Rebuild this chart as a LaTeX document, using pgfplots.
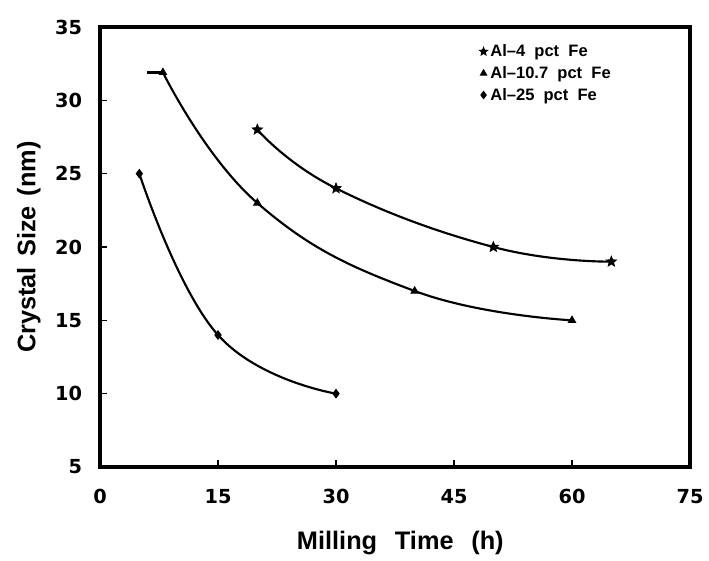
\documentclass[border=0pt]{standalone}
\usepackage{fontspec}
\setmainfont{Liberation Sans}
\newfontfamily\tickfont{DejaVu Sans Bold}
\usepackage{pgfplots}
\pgfplotsset{compat=1.18}
\pgfdeclareplotmark{fstar}{%
  \pgfpathmoveto{\pgfpointpolar{90}{1.25*\pgfplotmarksize}}%
  \pgfpathlineto{\pgfpointpolar{126}{0.55*\pgfplotmarksize}}%
  \pgfpathlineto{\pgfpointpolar{162}{1.25*\pgfplotmarksize}}%
  \pgfpathlineto{\pgfpointpolar{198}{0.55*\pgfplotmarksize}}%
  \pgfpathlineto{\pgfpointpolar{234}{1.25*\pgfplotmarksize}}%
  \pgfpathlineto{\pgfpointpolar{270}{0.55*\pgfplotmarksize}}%
  \pgfpathlineto{\pgfpointpolar{306}{1.25*\pgfplotmarksize}}%
  \pgfpathlineto{\pgfpointpolar{342}{0.55*\pgfplotmarksize}}%
  \pgfpathlineto{\pgfpointpolar{18}{1.25*\pgfplotmarksize}}%
  \pgfpathlineto{\pgfpointpolar{54}{0.55*\pgfplotmarksize}}%
  \pgfpathclose\pgfusepathqfillstroke}
\begin{document}
\begin{tikzpicture}[x=1pt,y=1pt]
\begin{axis}[
  at={(0,0)}, anchor=south west,
  scale only axis, width=442.5pt, height=330pt,
  xmin=0, xmax=75, ymin=5, ymax=35,
  xtick={0,15,...,75}, ytick={5,10,...,35},
  tick pos=left, tick align=inside, major tick length=5pt,
  axis line style={line width=2.4pt}, tick style={line width=1pt, black},
  /pgf/number format/assume math mode=true,
  tick label style={font=\tickfont\fontsize{14.5}{16}\selectfont},
  xticklabel style={yshift=-13pt},
  yticklabel style={xshift=-10pt},
  xlabel={Milling\hspace{0.7em}Time\hspace{0.7em}(h)}, ylabel={Crystal\hspace{0.4em}Size\hspace{0.4em}(nm)},
  label style={font=\fontsize{19}{22}\selectfont\bfseries},
  xlabel style={yshift=-14pt, xshift=4pt}, ylabel style={yshift=4pt},
  legend style={at={(axis cs:48.2,34.0)}, anchor=north west, draw=none, fill=none,
    font=\fontsize{12.4}{15}\selectfont\bfseries, row sep=1.8pt, inner sep=0pt},
  legend cell align=left,
  legend image code/.code={\draw[mark repeat=1,#1] plot coordinates {(0.12cm,0cm)};},
  every axis plot/.append style={black, line width=1.6pt, mark size=3.2pt, mark options={solid, line width=0.6pt}},
]
\addlegendimage{only marks, mark=fstar, mark size=2.6pt}
\addlegendentry{Al–4\ \ pct\ \ Fe}
\addlegendimage{only marks, mark=triangle*, mark size=2.8pt}
\addlegendentry{Al–10.7\ \ pct\ \ Fe}
\addlegendimage{only marks, mark=diamond*, mark size=2.8pt}
\addlegendentry{Al–25\ \ pct\ \ Fe}

\addplot[smooth, tension=0.75, mark=fstar, forget plot] coordinates {(20,28) (30,24) (50,20) (65,19)};
\addplot[smooth, tension=0.75, mark=triangle*, forget plot] coordinates {(8,31.9) (20,23) (40,17) (60,15)};
\addplot[no marks, forget plot, line width=1.8pt] coordinates {(6,31.9) (8,31.9)};
\addplot[smooth, tension=0.75, mark=diamond*, forget plot] coordinates {(5,25) (15,14) (30,10)};
\end{axis}
\pgfresetboundingbox
\path (-75pt,-69.75pt) rectangle (456.75pt,350.25pt);
\end{tikzpicture}
\end{document}
